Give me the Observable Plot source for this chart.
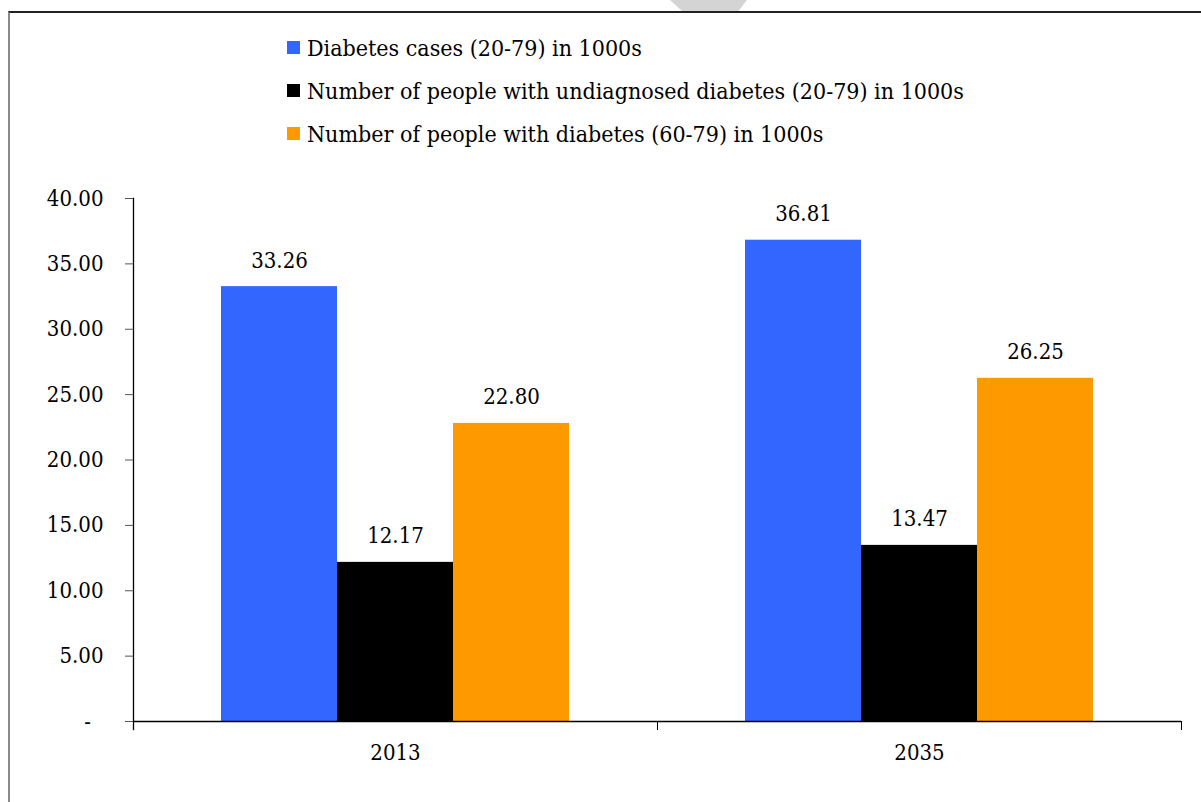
<!DOCTYPE html>
<html>
<head>
<meta charset="utf-8">
<script src="https://cdn.jsdelivr.net/npm/d3@7"></script>
<script src="https://cdn.jsdelivr.net/npm/@observablehq/plot@0.6"></script>
<style>
  html, body { margin: 0; padding: 0; background: #fff; }
  body { width: 1201px; height: 802px; position: relative; overflow: hidden; font-family: "DejaVu Serif Condensed", "DejaVu Serif", serif; }
  #blob { position: absolute; left: 670px; top: 0; width: 77px; height: 12px; background: #d4d4d4; clip-path: polygon(0 0, 100% 0, 88% 100%, 17% 100%); }
  #border { position: absolute; left: 8px; top: 11px; right: -2px; bottom: -2px; border-top: 2px solid #222; border-left: 2px solid #8a8a8a; }
  #legend { position: absolute; left: 287px; top: 26px; font-size: 23px; color: #000; }
  .item { display: flex; align-items: center; height: 43px; white-space: nowrap; }
  .sw { width: 13px; height: 13px; margin-right: 7px; flex: none; }
  #chart { position: absolute; left: 0; top: 170px; }
</style>
</head>
<body>
<div id="blob"></div>
<div id="border"></div>
<div id="legend"></div>
<div id="chart"></div>
<script>
const years = ["2013", "2035"];
const series = [
  "Diabetes cases (20-79) in 1000s",
  "Number of people with undiagnosed diabetes (20-79) in 1000s",
  "Number of people with diabetes (60-79) in 1000s"
];
const diabetesCases = [33.26, 36.81];
const undiagnosed = [12.17, 13.47];
const elderly = [22.80, 26.25];
const colors = ["#3366FF", "#000000", "#FF9900"];
const yTicks = [0, 5, 10, 15, 20, 25, 30, 35, 40];

const valueSets = [diabetesCases, undiagnosed, elderly];
const rows = [];
years.forEach((yr, i) => {
  series.forEach((s, j) => rows.push({year: yr, series: s, value: valueSets[j][i]}));
});

// legend
const legend = document.getElementById("legend");
series.forEach((s, j) => {
  const it = document.createElement("div");
  it.className = "item";
  it.innerHTML = `<span class="sw" style="background:${colors[j]}"></span><span>${s}</span>`;
  legend.appendChild(it);
});

const W = 1201, H = 632, mT = 28, mB = 81, mL = 133, mR = 20;
const plotH = H - mT - mB;
const font = "DejaVu Serif Condensed";

const chart = Plot.plot({
  width: W,
  height: H,
  marginTop: mT,
  marginBottom: mB,
  marginLeft: mL,
  marginRight: mR,
  style: {fontFamily: font, fontSize: "22px", color: "#000", background: "transparent"},
  fx: {domain: years, padding: 0, label: null},
  x: {domain: series, paddingInner: 0, paddingOuter: 0.75, axis: null},
  y: {domain: [0, 40], label: null},
  color: {domain: series, range: colors},
  marks: [
    Plot.barY(rows, {fx: "year", x: "series", y: "value", fill: "series", inset: 0}),
    Plot.text(rows, {fx: "year", x: "series", y: "value", text: d => d.value.toFixed(2), dy: -26, fontSize: 22, fontFamily: font}),
    Plot.ruleY([0], {stroke: "#000", strokeWidth: 1.3}),
    Plot.frame({anchor: "left", fx: [years[0]], insetBottom: -8, stroke: "#000", strokeWidth: 1.3}),
    Plot.frame({anchor: "left", fx: [years[1]], insetTop: plotH, insetBottom: -8, stroke: "#000"}),
    Plot.frame({anchor: "right", fx: [years[1]], insetTop: plotH, insetBottom: -8, stroke: "#000"}),
    Plot.axisY({ticks: yTicks, tickSize: 8, tickPadding: 22, tickFormat: d => d === 0 ? "-\u2007" : d.toFixed(2), fontSize: 22, fontFamily: font, label: null, stroke: "#555"}),
    Plot.axisFx({anchor: "bottom", tickSize: 0, tickPadding: 23, fontSize: 22, fontFamily: font, label: null})
  ]
});
document.getElementById("chart").appendChild(chart);
</script>
</body>
</html>
